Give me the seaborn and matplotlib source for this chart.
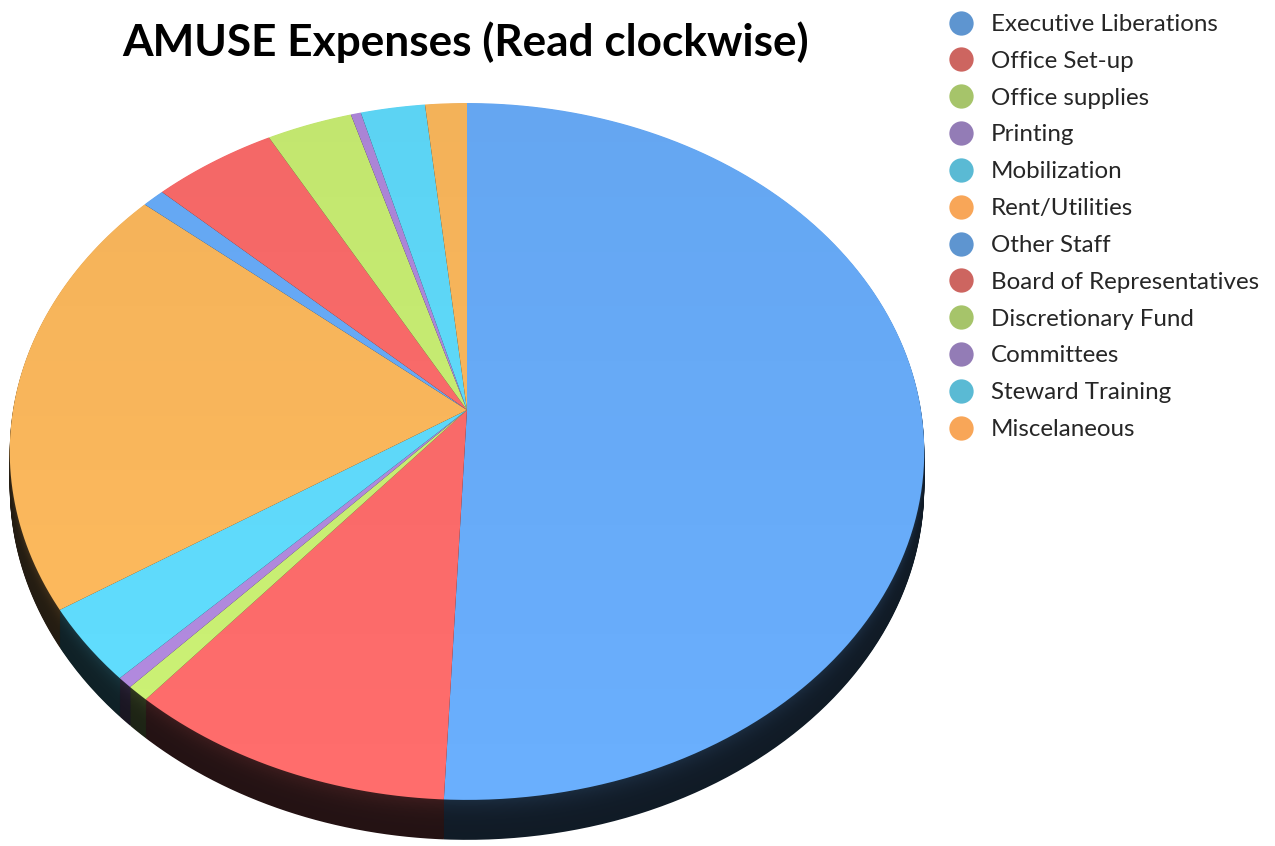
import numpy as np
import matplotlib
matplotlib.use("Agg")
import matplotlib.pyplot as plt
import seaborn as sns
from matplotlib.transforms import Transform
from matplotlib.path import Path
from matplotlib.lines import Line2D

# ---------------- data ----------------
categories = ["Executive Liberations", "Office Set-up", "Office supplies", "Printing",
              "Mobilization", "Rent/Utilities", "Other Staff", "Board of Representatives",
              "Discretionary Fund", "Committees", "Steward Training", "Miscelaneous"]
shares = [50.7, 10.4, 0.72, 0.5, 3.5, 20.3, 0.9, 4.95, 3.4, 0.4, 2.55, 1.65]

face_colors = ["#6AAFFD", "#FF6D6C", "#CCF275", "#B38BE0", "#61DEFF", "#FFBB5E",
               "#6AAFFD", "#FF6D6C", "#CCF275", "#B38BE0", "#61DEFF", "#FFBB5E"]
legend_colors = ["#5E95D0", "#CD6560", "#A6C46A", "#937CB6", "#5ABAD4", "#F8A658",
                 "#5E95D0", "#CD6560", "#A6C46A", "#937CB6", "#5ABAD4", "#F8A658"]
title = "AMUSE Expenses (Read clockwise)"

sns.set_theme(style="white")
plt.rcParams["font.family"] = ["Lato", "DejaVu Sans"]

W, H = 1275, 846
fig = plt.figure(figsize=(W / 100, H / 100), dpi=100)
ax = fig.add_axes([0, 0, 1, 1])

R = 1000.0  # pie drawn in a large unit circle so curves flatten finely


class Perspective(Transform):
    """Tilted-disc perspective: unit disc (u, v) -> pixel (X, Y)."""
    input_dims = output_dims = 2
    is_separable = False
    has_inverse = False

    def __init__(self, cx, cy, a, b, e, t, z):
        super().__init__()
        self.cx, self.cy, self.a, self.b, self.e, self.t, self.z = cx, cy, a, b, e, t, z

    def transform_non_affine(self, xy):
        xy = np.asarray(xy, float) / R
        u, v = xy[:, 0], xy[:, 1]
        w = 1 + self.e * v
        X = self.cx + self.a * u / w
        Y = self.cy - self.b * v / w + self.t * self.z / w
        return np.column_stack([X, Y])

    def transform_path_non_affine(self, path):
        polys = path.to_polygons(closed_only=True)
        verts, codes = [], []
        for p in polys:
            tp = self.transform_non_affine(p)
            c = np.full(len(tp), Path.LINETO, dtype=np.uint8)
            c[0] = Path.MOVETO
            c[-1] = Path.CLOSEPOLY
            verts.append(tp)
            codes.append(c)
        return Path(np.concatenate(verts), np.concatenate(codes))


geom = dict(cx=467, cy=410, a=454, b=343.5, e=0.119, t=35.2)


def draw_pie(colors, z, zorder):
    wedges, _ = ax.pie(shares, radius=R, startangle=90, counterclock=False,
                       colors=colors,
                       wedgeprops=dict(linewidth=0, antialiased=True))
    tr = Perspective(z=z, **geom) + ax.transData
    for w in wedges:
        w.set_transform(tr)
        w.set_zorder(zorder)
    return wedges


def shade(c, f):
    rgb = np.array(matplotlib.colors.to_rgb(c))
    return tuple(rgb * f + np.array([0.02, 0.03, 0.04]) * (1 - f) * 0.6)


# side (extrusion) layers, deepest first
zs = np.linspace(1.0, 0.0, 46)[:-1]
for i, z in enumerate(zs):
    f = 0.13 + 0.10 * (1 - z) ** 3
    draw_pie([shade(c, f) for c in face_colors], z, zorder=1 + i * 0.01)

# top face
top = draw_pie(face_colors, 0.0, zorder=3)

# subtle vertical shading of the top face (slightly darker far side)
grad = np.zeros((256, 1, 4))
yy = np.linspace(0, 1, 256)
grad[:, 0, 3] = np.clip(0.05 * (1 - (yy - 100 / H) / (700 / H)), 0, 0.05)
for w in top:
    im = ax.imshow(grad, extent=(0, W, H, 0), aspect="auto",
                   interpolation="bilinear", zorder=3.5)
    im.set_clip_path(w)

ax.set_xlim(0, W)
ax.set_ylim(H, 0)
ax.set_aspect("auto")
ax.axis("off")

fig.text(465.5 / W, 1 - 42 / H, title, ha="center", va="center",
         fontsize=31.8, fontweight="bold", color="black")

handles = [Line2D([], [], marker="o", linestyle="none", markersize=17.5,
                  markerfacecolor=c, markeredgewidth=0) for c in legend_colors]
fs = 17.4
fig.legend(handles, categories, loc="upper left",
           bbox_to_anchor=(946.5 / W, 1 - 14 / H), frameon=False, fontsize=fs,
           handlelength=1.2, handletextpad=0.64, labelspacing=0.655,
           borderaxespad=0, borderpad=0)

fig.savefig("out.png", dpi=100, facecolor="white")
